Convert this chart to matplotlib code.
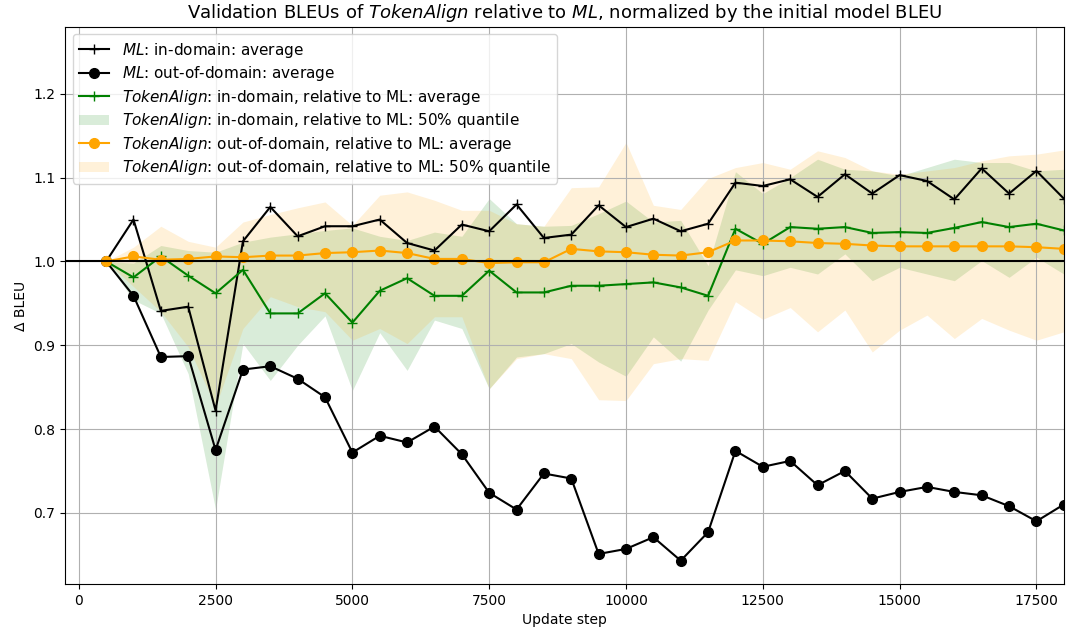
import numpy as np
import matplotlib
matplotlib.use("Agg")
import matplotlib.pyplot as plt

# update steps at which validation was run
steps = np.arange(500, 18001, 500)

# ML baseline, relative to initial BLEU
ml_in_avg = [1.000, 1.050, 0.941, 0.946, 0.822, 1.024, 1.065, 1.030, 1.042, 1.042,
             1.050, 1.022, 1.013, 1.044, 1.036, 1.068, 1.028, 1.032, 1.067, 1.041,
             1.051, 1.036, 1.045, 1.094, 1.090, 1.098, 1.077, 1.104, 1.081, 1.103,
             1.096, 1.074, 1.111, 1.081, 1.108, 1.075]
ml_out_avg = [1.000, 0.959, 0.886, 0.887, 0.775, 0.871, 0.875, 0.860, 0.838, 0.772,
              0.792, 0.784, 0.803, 0.770, 0.724, 0.704, 0.747, 0.741, 0.651, 0.657,
              0.671, 0.643, 0.677, 0.774, 0.755, 0.762, 0.733, 0.750, 0.717, 0.725,
              0.731, 0.725, 0.721, 0.708, 0.690, 0.710]

# TokenAlign relative to ML
ta_in_avg = [1.000, 0.981, 1.006, 0.983, 0.962, 0.990, 0.938, 0.938, 0.962, 0.927,
             0.965, 0.980, 0.959, 0.959, 0.989, 0.963, 0.963, 0.971, 0.971, 0.973,
             0.975, 0.969, 0.959, 1.039, 1.021, 1.041, 1.039, 1.041, 1.034, 1.035,
             1.034, 1.040, 1.047, 1.041, 1.045, 1.037]
ta_in_lo = [1.000, 0.954, 0.938, 0.866, 0.704, 0.902, 0.858, 0.900, 0.935, 0.846,
            0.915, 0.870, 0.930, 0.920, 0.848, 0.886, 0.890, 0.902, 0.880, 0.863,
            0.910, 0.881, 0.942, 0.990, 0.983, 0.993, 0.985, 1.009, 0.977, 0.993,
            0.985, 0.977, 1.001, 0.981, 1.005, 0.985]
ta_in_hi = [1.000, 0.998, 1.019, 1.013, 1.011, 1.023, 1.029, 1.033, 1.037, 1.040,
            1.030, 1.025, 1.035, 1.030, 1.075, 1.045, 1.042, 1.043, 1.057, 1.072,
            1.047, 1.049, 0.995, 1.107, 1.081, 1.100, 1.122, 1.110, 1.108, 1.102,
            1.112, 1.122, 1.118, 1.118, 1.108, 1.110]

ta_out_avg = [1.000, 1.006, 1.002, 1.003, 1.006, 1.005, 1.007, 1.007, 1.010, 1.011,
              1.013, 1.010, 1.003, 1.003, 0.998, 0.999, 0.999, 1.015, 1.012, 1.011,
              1.008, 1.007, 1.011, 1.025, 1.025, 1.024, 1.022, 1.021, 1.019, 1.018,
              1.018, 1.018, 1.018, 1.018, 1.017, 1.015]
ta_out_lo = [1.000, 0.970, 0.940, 0.898, 0.827, 0.920, 0.958, 0.946, 0.940, 0.906,
             0.920, 0.902, 0.934, 0.934, 0.848, 0.884, 0.890, 0.884, 0.835, 0.834,
             0.878, 0.884, 0.882, 0.952, 0.931, 0.945, 0.916, 0.942, 0.892, 0.918,
             0.936, 0.908, 0.932, 0.918, 0.906, 0.916]
ta_out_hi = [1.000, 1.017, 1.042, 1.024, 1.017, 1.047, 1.056, 1.064, 1.071, 1.043,
             1.079, 1.083, 1.073, 1.061, 1.061, 1.045, 1.042, 1.088, 1.089, 1.142,
             1.067, 1.062, 1.099, 1.112, 1.118, 1.110, 1.132, 1.124, 1.108, 1.104,
             1.108, 1.112, 1.120, 1.126, 1.128, 1.133]

fig = plt.figure(figsize=(10.67, 6.37), dpi=100)
ax = fig.add_subplot(111)
fig.subplots_adjust(left=0.061, right=0.997, top=0.958, bottom=0.083)

ax.plot(steps, ml_in_avg, color="black", marker="+", markersize=7, lw=1.5,
        label="$\\it{ML}$: in-domain: average")
ax.plot(steps, ml_out_avg, color="black", marker="o", markersize=7, lw=1.5,
        label="$\\it{ML}$: out-of-domain: average")
ax.plot(steps, ta_in_avg, color="green", marker="+", markersize=7, lw=1.5,
        label="$\\it{TokenAlign}$: in-domain, relative to ML: average")
ax.fill_between(steps, ta_in_lo, ta_in_hi, color="green", alpha=0.15, lw=0,
                label="$\\it{TokenAlign}$: in-domain, relative to ML: 50% quantile")
ax.plot(steps, ta_out_avg, color="orange", marker="o", markersize=7, lw=1.5,
        label="$\\it{TokenAlign}$: out-of-domain, relative to ML: average")
ax.fill_between(steps, ta_out_lo, ta_out_hi, color="orange", alpha=0.15, lw=0,
                label="$\\it{TokenAlign}$: out-of-domain, relative to ML: 50% quantile")

ax.axhline(1.0, color="black", lw=1.5)
ax.set_xlim(-250, 18000)
ax.set_ylim(0.615, 1.28)
ax.grid(True, color="#b0b0b0", lw=0.8)
ax.set_xlabel("Update step")
ax.set_ylabel("Δ BLEU")
ax.set_title("Validation BLEUs of $\\it{TokenAlign}$ relative to $\\it{ML}$, "
             "normalized by the initial model BLEU", fontsize=13)
ax.legend(loc="upper left", fontsize=11, labelspacing=0.3)

fig.savefig("out.png", dpi=100)
